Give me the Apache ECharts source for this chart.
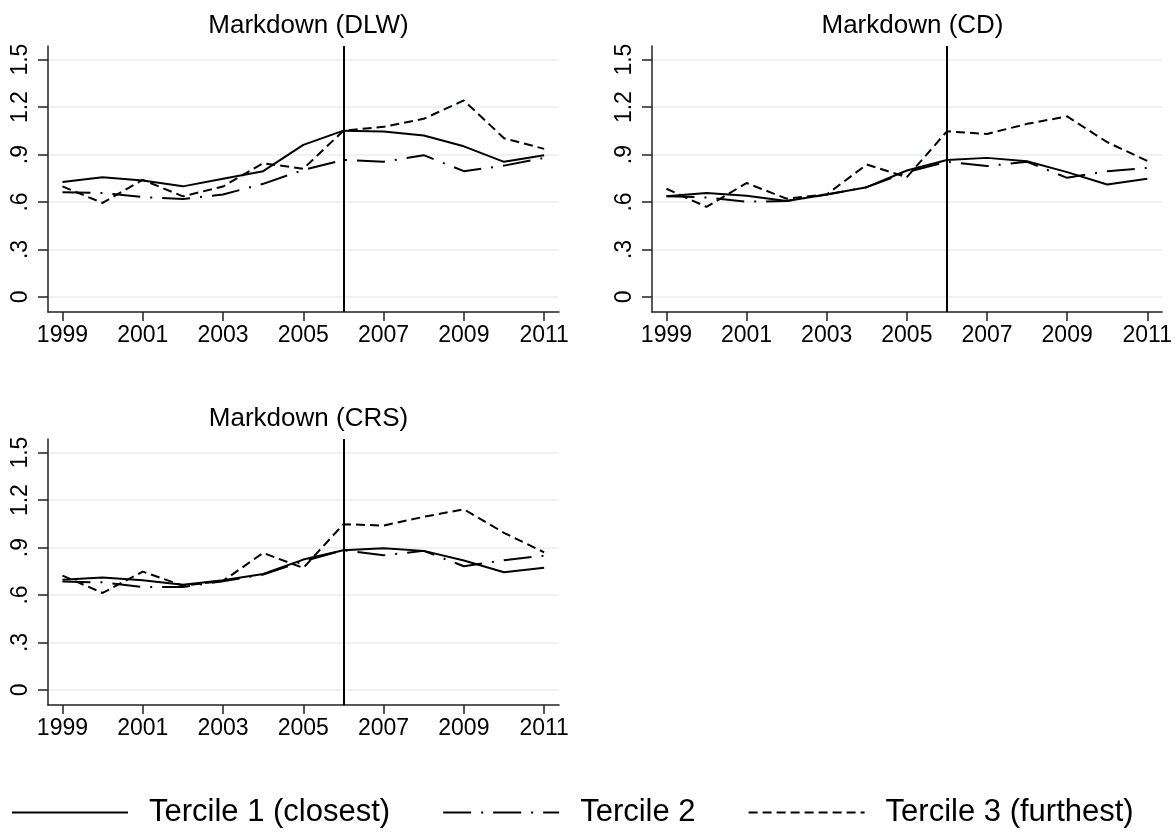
<!DOCTYPE html>
<html>
<head>
<meta charset="utf-8">
<title>Markdown by tercile</title>
<script src="https://cdn.jsdelivr.net/npm/echarts@6/dist/echarts.min.js"></script>
<style>
  html, body { margin: 0; padding: 0; background: #fff; }
  #chart { width: 1175px; height: 832px; }
</style>
</head>
<body>
<div id="chart"></div>
<script>
// years on the x axis
const years = [1999, 2000, 2001, 2002, 2003, 2004, 2005, 2006, 2007, 2008, 2009, 2010, 2011]
const xTicks = [1999, 2001, 2003, 2005, 2007, 2009, 2011]
const yTicks = [0, 0.3, 0.6, 0.9, 1.2, 1.5]
const eventYear = 2006

const seriesNames = ['Tercile 1 (closest)', 'Tercile 2', 'Tercile 3 (furthest)']
const panelTitles = ['Markdown (DLW)', 'Markdown (CD)', 'Markdown (CRS)']

// Markdown (DLW)
const dlwT1 = [0.726, 0.757, 0.736, 0.699, 0.747, 0.795, 0.961, 1.051, 1.045, 1.020, 0.952, 0.854, 0.896]
const dlwT2 = [0.661, 0.657, 0.631, 0.619, 0.648, 0.715, 0.803, 0.866, 0.854, 0.896, 0.795, 0.830, 0.879]
const dlwT3 = [0.699, 0.594, 0.740, 0.636, 0.698, 0.845, 0.810, 1.051, 1.075, 1.126, 1.242, 1.003, 0.936]

// Markdown (CD)
const cdT1 = [0.636, 0.657, 0.640, 0.606, 0.648, 0.694, 0.799, 0.866, 0.879, 0.858, 0.789, 0.711, 0.747]
const cdT2 = [0.636, 0.629, 0.602, 0.606, 0.648, 0.694, 0.789, 0.854, 0.827, 0.854, 0.753, 0.795, 0.816]
const cdT3 = [0.684, 0.569, 0.720, 0.621, 0.648, 0.837, 0.757, 1.047, 1.030, 1.094, 1.141, 0.978, 0.860]

// Markdown (CRS)
const crsT1 = [0.697, 0.710, 0.693, 0.665, 0.693, 0.733, 0.824, 0.883, 0.896, 0.879, 0.818, 0.744, 0.773]
const crsT2 = [0.685, 0.680, 0.651, 0.651, 0.687, 0.729, 0.813, 0.883, 0.851, 0.879, 0.782, 0.820, 0.849]
const crsT3 = [0.723, 0.613, 0.748, 0.659, 0.689, 0.866, 0.771, 1.048, 1.039, 1.094, 1.142, 0.993, 0.870]

const panels = [
  [dlwT1, dlwT2, dlwT3],
  [cdT1, cdT2, cdT3],
  [crsT1, crsT2, crsT3]
]

const font = "'Liberation Sans', Arial, sans-serif"
const lineTypes = ['solid', [28, 10, 2, 10], [9, 5]]

// panel frames (pixels)
const frames = [
  { left: 48, top: 46, width: 511, height: 266 },
  { left: 652, top: 46, width: 511, height: 266 },
  { left: 48, top: 439, width: 511, height: 266 }
]

const chart = echarts.init(document.getElementById('chart'), null, { renderer: 'canvas' })

const grid = frames.map(f => ({ left: f.left, top: f.top, width: f.width, height: f.height }))

const title = frames.map((f, i) => ({
  text: panelTitles[i],
  left: f.left + f.width / 2,
  top: f.top - 38,
  textAlign: 'center',
  textStyle: { fontFamily: font, fontSize: 26, fontWeight: 'normal', color: '#000' }
}))

const xAxis = frames.map((f, i) => ({
  type: 'value',
  gridIndex: i,
  min: 1998.64,
  max: 2011.37,
  axisLine: { show: true, onZero: false, lineStyle: { color: '#222', width: 1.5 } },
  axisTick: { show: true, customValues: xTicks, length: 9, lineStyle: { color: '#222', width: 1.5 } },
  axisLabel: {
    customValues: xTicks,
    formatter: v => String(v),
    margin: 12,
    fontFamily: font,
    fontSize: 23,
    color: '#000'
  },
  splitLine: { show: false }
}))

const yAxis = frames.map((f, i) => ({
  type: 'value',
  gridIndex: i,
  min: -0.095,
  max: 1.586,
  axisLine: { show: true, lineStyle: { color: '#222', width: 1.5 } },
  axisTick: { show: true, customValues: yTicks, length: 10, lineStyle: { color: '#222', width: 1.5 } },
  axisLabel: {
    customValues: yTicks,
    rotate: 90,
    margin: 16,
    formatter: v => (v === 0 ? '0' : v.toFixed(1).replace(/^0\./, '.')),
    fontFamily: font,
    fontSize: 23,
    color: '#000'
  },
  splitLine: { show: true, lineStyle: { color: '#e6eef2', width: 1.5 } }
}))

const series = []
panels.forEach((terciles, p) => {
  terciles.forEach((vals, t) => {
    const s = {
      name: seriesNames[t],
      type: 'line',
      xAxisIndex: p,
      yAxisIndex: p,
      data: years.map((yr, k) => [yr, vals[k]]),
      symbol: 'none',
      lineStyle: { color: '#000', width: 2, type: lineTypes[t] },
      itemStyle: { color: '#000' },
      z: 3 + t
    }
    if (t === 0) {
      s.markLine = {
        silent: true,
        symbol: 'none',
        label: { show: false },
        lineStyle: { color: '#000', width: 2, type: 'solid' },
        data: [{ xAxis: eventYear }]
      }
    }
    series.push(s)
  })
})

chart.setOption({
  animation: false,
  backgroundColor: '#fff',
  title,
  legend: {
    data: seriesNames,
    left: 11,
    top: 797,
    padding: 0,
    itemWidth: 116,
    itemHeight: 14,
    itemGap: 52,
    itemStyle: { opacity: 0 },
    textStyle: { fontFamily: font, fontSize: 31, color: '#000', padding: [0, 0, 0, 16] }
  },
  grid,
  xAxis,
  yAxis,
  series
})
</script>
</body>
</html>
